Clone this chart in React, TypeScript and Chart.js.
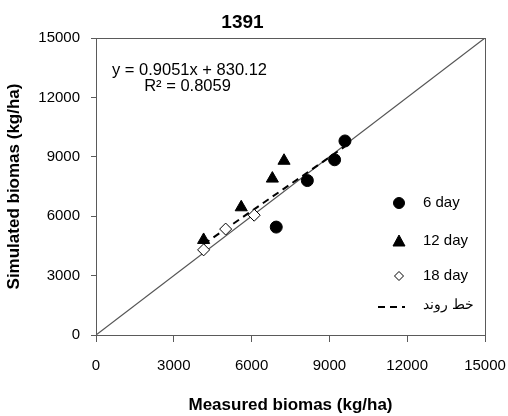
import React, { useEffect, useRef } from 'react';
import { Chart, registerables } from 'chart.js';

Chart.register(...registerables);

const chartTitle = '1391';
const xAxisTitle = 'Measured biomas (kg/ha)';
const yAxisTitle = 'Simulated biomas (kg/ha)';
const axisMin = 0;
const axisMax = 15000;
const axisStep = 3000;

const day6X = [6950, 8150, 9200, 9600];
const day6Y = [5450, 7800, 8850, 9800];
const day12X = [4150, 5600, 6800, 7250];
const day12Y = [4800, 6450, 7900, 8800];
const day18X = [4150, 5000, 6100];
const day18Y = [4300, 5350, 6050];
const trendX = [4150, 9600];
const trendY = [4586, 9519];
const oneToOneX = [0, 15000];
const oneToOneY = [0, 15000];

const seriesNames = ['6 day', '12 day', '18 day', 'خط روند'];
const equationLines = ['y = 0.9051x + 830.12', 'R² = 0.8059'];

const FONT = '"Liberation Sans", Arial, sans-serif';
const AXIS_COLOR = '#5a5a5a';

const pts = (xs: number[], ys: number[]) => xs.map((x, i) => ({ x, y: ys[i] }));

const overlayPlugin = {
  id: 'overlay',
  afterDatasetsDraw(chart: any) {
    const { ctx, chartArea } = chart;
    const { left, top, right, bottom } = chartArea;
    ctx.save();
    // frame
    ctx.strokeStyle = AXIS_COLOR;
    ctx.lineWidth = 1;
    ctx.strokeRect(Math.round(left) + 0.5, Math.round(top) + 0.5, Math.round(right - left), Math.round(bottom - top));

    // equation
    ctx.fillStyle = '#000';
    ctx.font = `16.5px ${FONT}`;
    ctx.textBaseline = 'middle';
    ctx.textAlign = 'left';
    ctx.fillText(equationLines[0], left + 16, top + 32);
    ctx.textAlign = 'center';
    const w0 = ctx.measureText(equationLines[0]).width;
    ctx.fillText(equationLines[1], left + 16 + w0 / 2 - 2, top + 48);

    // legend
    const mx = right - 86;
    const tx = right - 62;
    const rows = [top + 165, top + 203, top + 238, top + 269];
    ctx.textAlign = 'left';
    ctx.font = `15px ${FONT}`;
    for (let i = 0; i < 3; i++) {
      const ds = chart.data.datasets[i];
      ctx.beginPath();
      const y = rows[i];
      const r = i === 2 ? 4.5 : 5.5;
      if (ds.pointStyle === 'circle') {
        ctx.arc(mx, y, r, 0, Math.PI * 2);
      } else if (ds.pointStyle === 'triangle') {
        ctx.moveTo(mx, y - 6);
        ctx.lineTo(mx + 6, y + 5);
        ctx.lineTo(mx - 6, y + 5);
        ctx.closePath();
      } else {
        ctx.moveTo(mx, y - r);
        ctx.lineTo(mx + r, y);
        ctx.lineTo(mx, y + r);
        ctx.lineTo(mx - r, y);
        ctx.closePath();
      }
      ctx.fillStyle = ds.backgroundColor;
      ctx.fill();
      ctx.strokeStyle = ds.borderColor;
      ctx.lineWidth = 1;
      ctx.stroke();
      ctx.fillStyle = '#000';
      ctx.fillText(seriesNames[i], tx, y);
    }
    const trend = chart.data.datasets[3];
    ctx.beginPath();
    ctx.setLineDash(trend.borderDash);
    ctx.strokeStyle = trend.borderColor;
    ctx.lineWidth = trend.borderWidth;
    ctx.moveTo(right - 107, rows[3]);
    ctx.lineTo(right - 80, rows[3]);
    ctx.stroke();
    ctx.setLineDash([]);
    ctx.font = `14px ${FONT}`;
    ctx.fillStyle = '#000';
    ctx.fillText(seriesNames[3], tx, rows[3] - 2);
    ctx.restore();
  },
};

export default function App() {
  const ref = useRef<HTMLCanvasElement | null>(null);
  useEffect(() => {
    if (!ref.current) return;
    const chart = new Chart(ref.current, {
      type: 'scatter',
      data: {
        datasets: [
          {
            label: seriesNames[0],
            data: pts(day6X, day6Y),
            pointStyle: 'circle',
            pointRadius: 6,
            backgroundColor: '#000000',
            borderColor: '#000000',
            borderWidth: 1,
          },
          {
            label: seriesNames[1],
            data: pts(day12X, day12Y),
            pointStyle: 'triangle',
            pointRadius: 7,
            backgroundColor: '#000000',
            borderColor: '#000000',
            borderWidth: 1,
          },
          {
            label: seriesNames[2],
            data: pts(day18X, day18Y),
            pointStyle: 'rectRot',
            pointRadius: 6,
            backgroundColor: '#ffffff',
            borderColor: '#000000',
            borderWidth: 1,
          },
          {
            label: seriesNames[3],
            data: pts(trendX, trendY),
            showLine: true,
            pointRadius: 0,
            borderColor: '#000000',
            borderWidth: 2,
            borderDash: [7, 5],
            order: 1,
          } as any,
          {
            label: '1:1',
            data: pts(oneToOneX, oneToOneY),
            showLine: true,
            pointRadius: 0,
            borderColor: '#555555',
            borderWidth: 1.2,
            order: 2,
          } as any,
        ],
      },
      options: {
        responsive: false,
        animation: false,
        layout: { padding: { left: 0, right: 23, top: 0, bottom: 0 } },
        plugins: {
          legend: { display: false },
          tooltip: { enabled: false },
          title: {
            display: true,
            text: chartTitle,
            color: '#000',
            font: { family: FONT, size: 19, weight: 'bold' },
            padding: { top: 11.1, bottom: 4.1 },
          },
        },
        scales: {
          x: {
            type: 'linear',
            min: axisMin,
            max: axisMax,
            ticks: {
              stepSize: axisStep,
              color: '#000',
              padding: 15,
              font: { family: FONT, size: 15 },
              maxRotation: 0,
              callback: (v: any) => String(v),
            },
            grid: { display: true, drawOnChartArea: false, drawTicks: true, tickLength: 7, color: AXIS_COLOR },
            border: { display: true, color: AXIS_COLOR },
            title: { display: true, text: xAxisTitle, color: '#000', font: { family: FONT, size: 17, weight: 'bold' }, padding: { top: 0, bottom: 0.8 } },
            afterFit(scale: any) {
              scale.height = 416 - 335;
              scale.paddingLeft = 0;
              scale.paddingRight = 0;
            },
          },
          y: {
            type: 'linear',
            min: axisMin,
            max: axisMax,
            ticks: {
              stepSize: axisStep,
              color: '#000',
              padding: 11,
              font: { family: FONT, size: 15 },
              callback: (v: any) => String(v),
            },
            grid: { display: true, drawOnChartArea: false, drawTicks: true, tickLength: 5, color: AXIS_COLOR },
            border: { display: true, color: AXIS_COLOR },
            title: { display: true, text: yAxisTitle, color: '#000', font: { family: FONT, size: 17, weight: 'bold' }, padding: { top: 3.8, bottom: 0 } },
            afterFit(scale: any) {
              scale.width = 96;
              scale.paddingTop = 0;
              scale.paddingBottom = 0;
            },
          },
        },
      },
      plugins: [overlayPlugin],
    });
    return () => chart.destroy();
  }, []);
  return (
    <div style={{ position: 'fixed', left: 0, top: 0, width: 508, height: 416, background: '#fff' }}>
      <canvas ref={ref} width={508} height={416} />
    </div>
  );
}
